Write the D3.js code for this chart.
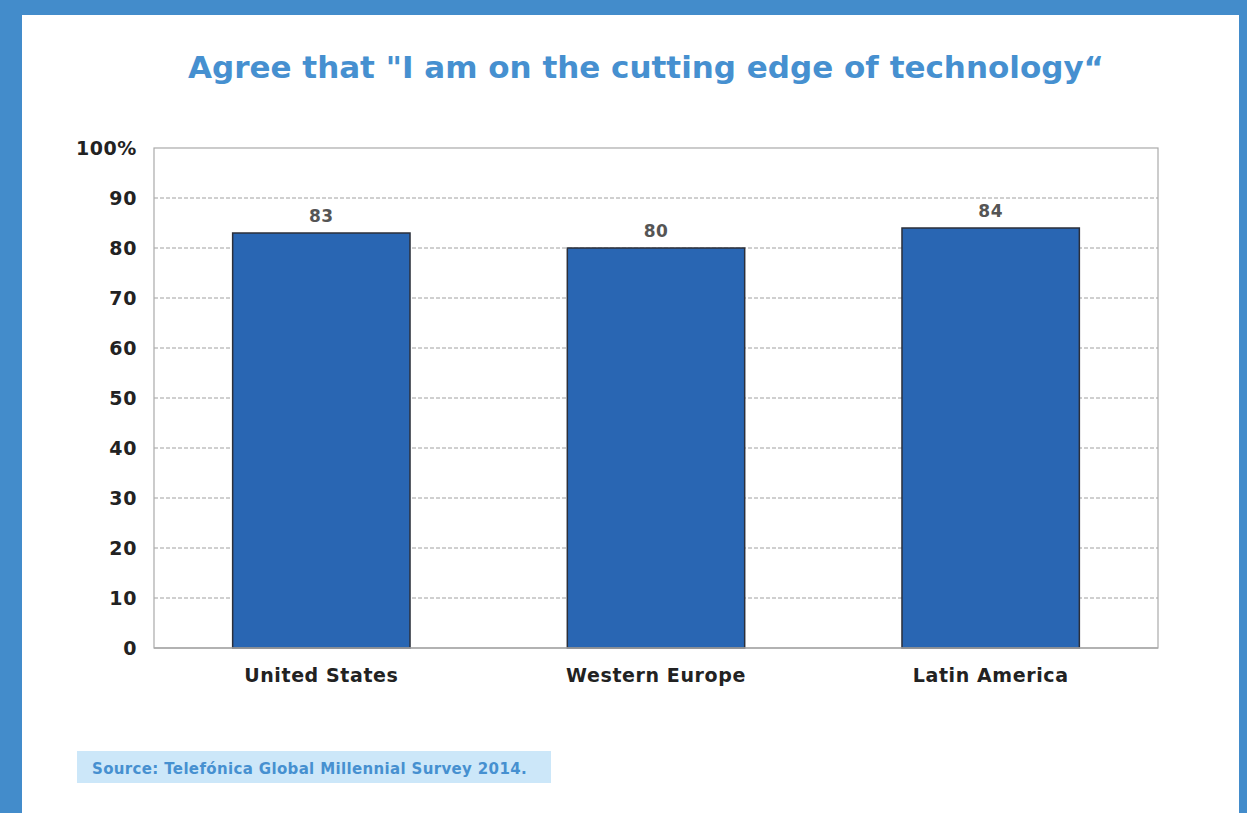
<!DOCTYPE html>
<html>
<head>
<meta charset="utf-8">
<script src="https://cdn.jsdelivr.net/npm/d3@7"></script>
<style>
  body { margin: 0; background: #fff; }
  svg { display: block; font-family: Verdana, "DejaVu Sans", sans-serif; }
</style>
</head>
<body>
<div id="chart"></div>
<script>
const categories = ["United States", "Western Europe", "Latin America"];
const values = [83, 80, 84];
const yTicks = [0, 10, 20, 30, 40, 50, 60, 70, 80, 90, 100];
const title = "Agree that \"I am on the cutting edge of technology\u201C";
const source = "Source: Telef\u00F3nica Global Millennial Survey 2014.";

const W = 1247, H = 813;
const margin = { top: 148, left: 154, right: 89, bottom: 165 };
const width = W - margin.left - margin.right,
    height = H - margin.top - margin.bottom;

const svg = d3.select("#chart")
    .append("svg")
    .attr("width", W)
    .attr("height", H);

// blue frame
svg.append("rect").attr("x", 0).attr("y", 0).attr("width", W).attr("height", H).attr("fill", "#438ccb");
svg.append("rect").attr("x", 22).attr("y", 15).attr("width", 1239 - 22).attr("height", H - 15).attr("fill", "#fff");

// title
svg.append("text")
    .attr("x", 646)
    .attr("y", 78)
    .attr("text-anchor", "middle")
    .style("font-size", "31px")
    .style("font-weight", "bold")
    .style("fill", "#4690d0")
    .text(title);

const g = svg.append("g")
    .attr("transform", `translate(${margin.left},${margin.top})`);

const x = d3.scaleBand()
    .domain(categories)
    .range([0, width])
    .paddingInner(0.47)
    .paddingOuter(0.235);

const y = d3.scaleLinear()
    .domain([0, 100])
    .range([height, 0]);

// grid lines
g.selectAll(".grid")
    .data(yTicks.filter(d => d > 0 && d < 100))
    .join("line")
    .attr("x1", 0)
    .attr("x2", width)
    .attr("y1", d => y(d))
    .attr("y2", d => y(d))
    .attr("stroke", "#a0a0a0")
    .attr("stroke-width", 1)
    .attr("stroke-dasharray", "4,2");

// plot border
g.append("rect")
    .attr("x", 0).attr("y", 0)
    .attr("width", width).attr("height", height)
    .attr("fill", "none")
    .attr("stroke", "#aaa")
    .attr("stroke-width", 1.2);

// y axis
const yAxis = g.append("g")
    .call(d3.axisLeft(y).tickValues(yTicks).tickSize(0).tickPadding(17)
        .tickFormat(d => d === 100 ? "100%" : d));
yAxis.select(".domain").remove();
yAxis.selectAll("text")
    .style("font-family", "Verdana, 'DejaVu Sans', sans-serif")
    .style("font-size", "19px")
    .style("font-weight", "bold")
    .style("letter-spacing", "0.6px")
    .style("fill", "#222");

// bars
g.selectAll(".bar")
    .data(values)
    .join("rect")
    .attr("x", (d, i) => x(categories[i]))
    .attr("y", d => y(d))
    .attr("width", x.bandwidth())
    .attr("height", d => height - y(d))
    .attr("fill", "#2966b3")
    .attr("stroke", "#2b2f3a")
    .attr("stroke-width", 1.5);

// bottom line over bars
g.append("line")
    .attr("x1", 0).attr("x2", width)
    .attr("y1", height).attr("y2", height)
    .attr("stroke", "#aaa")
    .attr("stroke-width", 1.5);

// value labels
g.selectAll(".label")
    .data(values)
    .join("text")
    .attr("x", (d, i) => x(categories[i]) + x.bandwidth() / 2)
    .attr("y", d => y(d) - 11)
    .attr("text-anchor", "middle")
    .style("font-size", "17px")
    .style("font-weight", "bold")
    .style("letter-spacing", "0.5px")
    .style("fill", "#555")
    .text(d => d);

// x axis
const xAxis = g.append("g")
    .attr("transform", `translate(0,${height})`)
    .call(d3.axisBottom(x).tickSize(0).tickPadding(21));
xAxis.select(".domain").remove();
xAxis.selectAll("text")
    .style("font-family", "Verdana, 'DejaVu Sans', sans-serif")
    .style("font-size", "19px")
    .style("font-weight", "bold")
    .style("letter-spacing", "0.6px")
    .style("fill", "#222");

// source box
svg.append("rect")
    .attr("x", 77).attr("y", 751)
    .attr("width", 474).attr("height", 32)
    .attr("fill", "#cce7f9");
svg.append("text")
    .attr("x", 92)
    .attr("y", 774)
    .style("font-size", "15px")
    .style("font-weight", "bold")
    .style("letter-spacing", "0.35px")
    .style("fill", "#4690d0")
    .text(source);
</script>
</body>
</html>
